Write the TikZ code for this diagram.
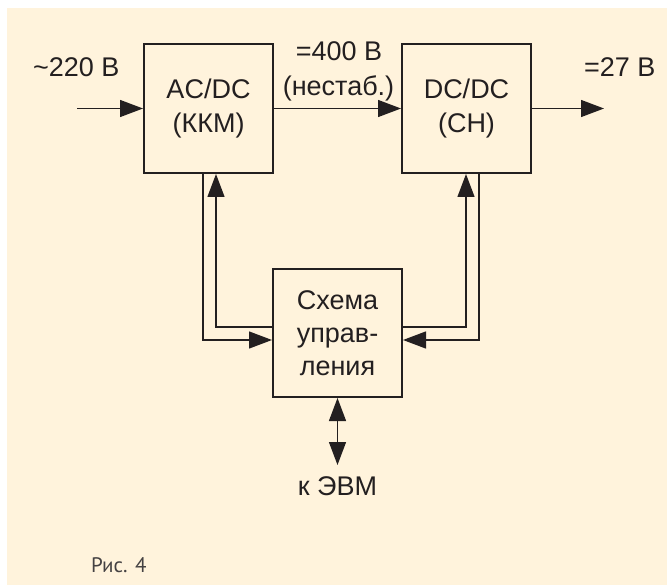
\documentclass[tikz,border=0pt]{standalone}
\usepackage{fontspec}
\setmainfont{Liberation Sans}
\newfontfamily\capfont{PT Sans}
\usetikzlibrary{arrows.meta}
\definecolor{bg}{HTML}{FFF3DC}
\definecolor{ink}{HTML}{231F20}
\begin{document}
\begin{tikzpicture}[x=1pt,y=-1pt,
  tri/.tip={Triangle[length=23pt,width=17pt]},
  box/.style={draw=ink, line width=2pt, minimum width=129pt, minimum height=129pt, inner sep=0pt, align=center, font=\fontsize{27}{34}\selectfont, text=ink},
  lbl/.style={font=\fontsize{27}{34}\selectfont, text=ink, inner sep=0pt},
  conn/.style={draw=ink, line width=1.3pt},
  arr/.style={conn, -tri},
]
\fill[bg] (7,8) rectangle (667,585);
\useasboundingbox (0,0) rectangle (667,585);

\node[box] (acdc) at (208.5,108.5) {AC/DC\\(ККМ)};
\node[box] (dcdc) at (466.5,108.5) {DC/DC\\(СН)};
\node[box, minimum height=128pt, font=\fontsize{27}{33}\selectfont] (ctrl) at (337.5,333) {Схема\\управ-\\ления};

\node[lbl, anchor=base west] (vin) at (33,77) {\textasciitilde 220 В};
\node[lbl, anchor=base] (v400) at (339,61) {=400 В};
\node[lbl, anchor=base] (nst) at (338.5,96) {(нестаб.)};
\node[lbl, anchor=base west] (vout) at (584,77) {=27 В};
\node[lbl, anchor=base] (evm) at (337.5,495) {к ЭВМ};
\node[font=\capfont\fontsize{21}{25}\selectfont, text=ink!85, anchor=base west, inner sep=0pt] (fig) at (91,572) {Рис. 4};

\coordinate (inp) at (77,108.5);
\coordinate (outp) at (604,108.5);
\coordinate (evmtip) at (337.5,465);

\draw[arr] (inp) -- (acdc.west);
\draw[arr] (acdc.east) -- (dcdc.west);
\draw[arr] (dcdc.east) -- (outp);

\draw[arr] ([xshift=-5.5pt]acdc.south) |- ([yshift=-7pt]ctrl.west);
\draw[arr] ([yshift=6pt]ctrl.west) -| ([xshift=7.5pt]acdc.south);
\draw[arr] ([yshift=6pt]ctrl.east) -| ([xshift=-0.5pt]dcdc.south);
\draw[arr] ([xshift=12.5pt]dcdc.south) |- ([yshift=-7pt]ctrl.east);

\draw[conn, tri-tri] (ctrl.south) -- (evmtip);
\end{tikzpicture}
\end{document}
